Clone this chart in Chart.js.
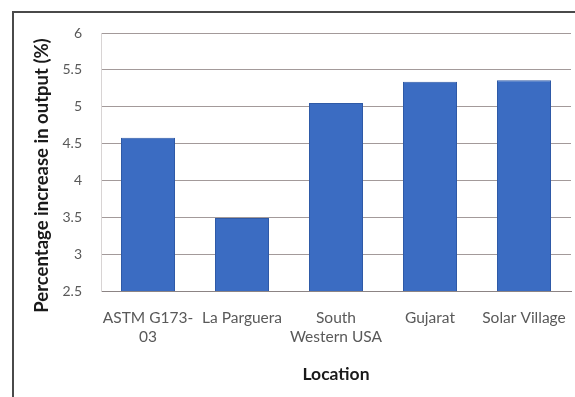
<!DOCTYPE html>
<html>
<head>
<meta charset="utf-8">
<script src="https://cdn.jsdelivr.net/npm/chart.js@4.4.0/dist/chart.umd.min.js"></script>
<style>
  html, body { margin: 0; padding: 0; background: #fff; }
  #wrap { position: relative; width: 575px; height: 397px; overflow: hidden; }
  #frame { position: absolute; left: 12px; top: 11px; width: 600px; height: 400px;
           border-left: 2px solid #4a4a4a; border-top: 2px solid #4a4a4a; box-sizing: border-box; }
  canvas { position: absolute; left: 0; top: 0; }
</style>
</head>
<body>
<div id="wrap">
  <div id="frame"></div>
  <canvas id="c" width="575" height="397"></canvas>
</div>
<script>
const categories = [["ASTM G173-", "03"], "La Parguera", ["South", "Western USA"], "Gujarat", "Solar Village"];
const values = [4.58, 3.49, 5.05, 5.34, 5.36];
const yMin = 2.5, yMax = 6, yStep = 0.5;
const yTitle = "Percentage increase in output (%)";
const xTitle = "Location";

const FONT = "Lato, 'Open Sans', sans-serif";

new Chart(document.getElementById('c'), {
  type: 'bar',
  data: {
    labels: categories,
    datasets: [{
      data: values,
      backgroundColor: '#3b6cc2',
      borderColor: '#2f5aa6',
      borderWidth: 1,
      categoryPercentage: 1.0,
      barPercentage: 0.575
    }]
  },
  options: {
    responsive: false,
    animation: false,
    devicePixelRatio: 1,
    layout: { padding: { left: 0, right: 4, top: 33, bottom: 0 } },
    plugins: { legend: { display: false }, tooltip: { enabled: false } },
    scales: {
      x: {
        grid: { display: false, drawTicks: false },
        border: { display: true, color: '#8c8484', width: 1 },
        ticks: { color: '#595959', font: { family: FONT, size: 15.5, lineHeight: 1.22 }, padding: 18, maxRotation: 0, autoSkip: false },
        title: { display: true, text: xTitle, color: '#1a1a1a', font: { family: FONT, size: 17.5, weight: 'bold', lineHeight: 1.2 }, padding: { top: 0, bottom: 12.5 } },
        afterFit: (s) => { s.height = 106; s.paddingLeft = 0; s.paddingRight = 0; }
      },
      y: {
        min: yMin, max: yMax,
        grid: { color: '#a39a9a', drawTicks: false },
        border: { display: true, color: '#d8d4d4', width: 1 },
        ticks: { stepSize: yStep, color: '#595959', font: { family: FONT, size: 14 }, padding: 19,
                 callback: (v) => String(v) },
        title: { display: true, text: yTitle + "\u00A0".repeat(6), color: '#1a1a1a', font: { family: FONT, size: 18.5, weight: 'bold', lineHeight: 1.2 }, padding: { top: 31, bottom: 0 } },
        afterFit: (s) => { s.width = 101; s.paddingTop = 0; s.paddingBottom = 0; }
      }
    }
  }
});
</script>
</body>
</html>
